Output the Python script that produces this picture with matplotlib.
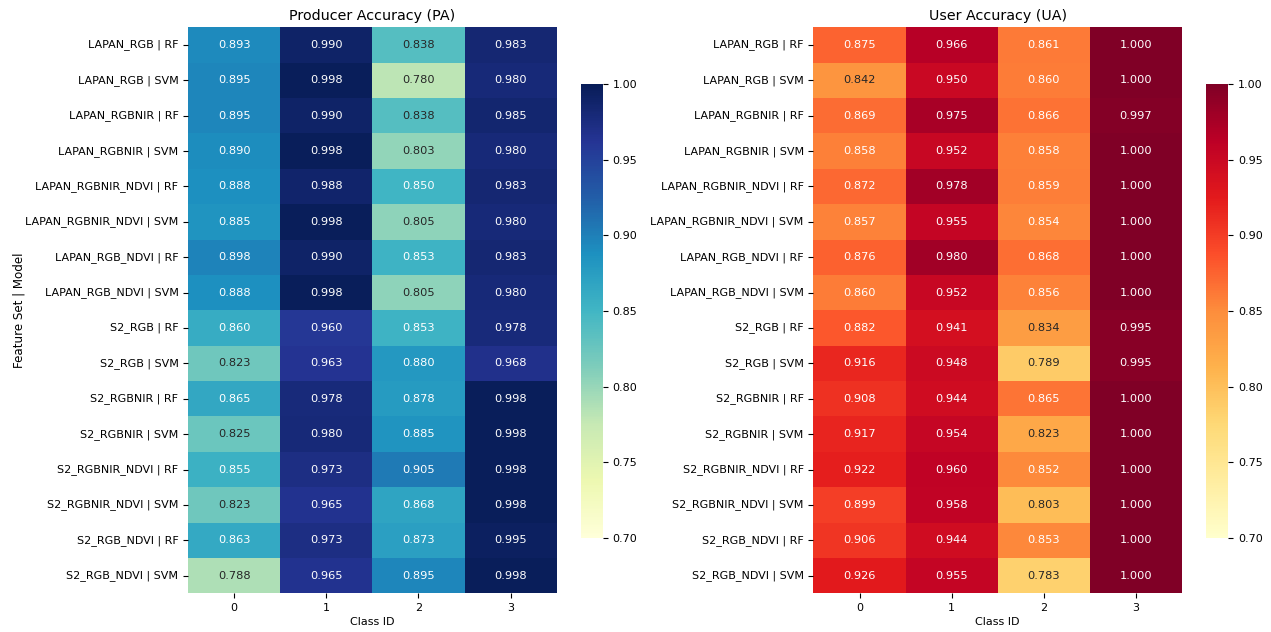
import matplotlib
matplotlib.use("Agg")
import matplotlib.pyplot as plt
import numpy as np
import seaborn as sns

rows = ["LAPAN_RGB | RF", "LAPAN_RGB | SVM", "LAPAN_RGBNIR | RF", "LAPAN_RGBNIR | SVM",
        "LAPAN_RGBNIR_NDVI | RF", "LAPAN_RGBNIR_NDVI | SVM", "LAPAN_RGB_NDVI | RF",
        "LAPAN_RGB_NDVI | SVM", "S2_RGB | RF", "S2_RGB | SVM", "S2_RGBNIR | RF",
        "S2_RGBNIR | SVM", "S2_RGBNIR_NDVI | RF", "S2_RGBNIR_NDVI | SVM",
        "S2_RGB_NDVI | RF", "S2_RGB_NDVI | SVM"]
classes = ["0", "1", "2", "3"]

pa = [
    [0.893, 0.990, 0.838, 0.983],
    [0.895, 0.998, 0.780, 0.980],
    [0.895, 0.990, 0.838, 0.985],
    [0.890, 0.998, 0.803, 0.980],
    [0.888, 0.988, 0.850, 0.983],
    [0.885, 0.998, 0.805, 0.980],
    [0.898, 0.990, 0.853, 0.983],
    [0.888, 0.998, 0.805, 0.980],
    [0.860, 0.960, 0.853, 0.978],
    [0.823, 0.963, 0.880, 0.968],
    [0.865, 0.978, 0.878, 0.998],
    [0.825, 0.980, 0.885, 0.998],
    [0.855, 0.973, 0.905, 0.998],
    [0.823, 0.965, 0.868, 0.998],
    [0.863, 0.973, 0.873, 0.995],
    [0.788, 0.965, 0.895, 0.998],
]
ua = [
    [0.875, 0.966, 0.861, 1.000],
    [0.842, 0.950, 0.860, 1.000],
    [0.869, 0.975, 0.866, 0.997],
    [0.858, 0.952, 0.858, 1.000],
    [0.872, 0.978, 0.859, 1.000],
    [0.857, 0.955, 0.854, 1.000],
    [0.876, 0.980, 0.868, 1.000],
    [0.860, 0.952, 0.856, 1.000],
    [0.882, 0.941, 0.834, 0.995],
    [0.916, 0.948, 0.789, 0.995],
    [0.908, 0.944, 0.865, 1.000],
    [0.917, 0.954, 0.823, 1.000],
    [0.922, 0.960, 0.852, 1.000],
    [0.899, 0.958, 0.803, 1.000],
    [0.906, 0.944, 0.853, 1.000],
    [0.926, 0.955, 0.783, 1.000],
]

fs = 8.0
fig = plt.figure(figsize=(12.71, 6.32), dpi=100)
ax1 = fig.add_axes([0.148, 0.061, 0.290, 0.896])
cax1 = fig.add_axes([0.457, 0.149, 0.0173, 0.718])
ax2 = fig.add_axes([0.640, 0.061, 0.290, 0.896])
cax2 = fig.add_axes([0.949, 0.149, 0.0173, 0.718])

for ax, cax, data, cmap, title, ylabel in [
    (ax1, cax1, pa, "YlGnBu", "Producer Accuracy (PA)", "Feature Set | Model"),
    (ax2, cax2, ua, "YlOrRd", "User Accuracy (UA)", ""),
]:
    sns.heatmap(np.array(data), ax=ax, cbar_ax=cax, cmap=cmap, vmin=0.7, vmax=1.0,
                annot=True, fmt=".3f", annot_kws={"fontsize": 8.2},
                xticklabels=classes, yticklabels=rows)
    ax.set_title(title, fontsize=10.3, pad=5)
    ax.set_xlabel("Class ID", fontsize=fs, labelpad=3)
    ax.set_ylabel(ylabel, fontsize=8.6, labelpad=0)
    ax.tick_params(axis="both", labelsize=fs, length=3.5)
    ax.set_yticklabels(rows, rotation=0)
    cax.tick_params(labelsize=fs, length=3.5)

fig.savefig("out.png", dpi=100)
